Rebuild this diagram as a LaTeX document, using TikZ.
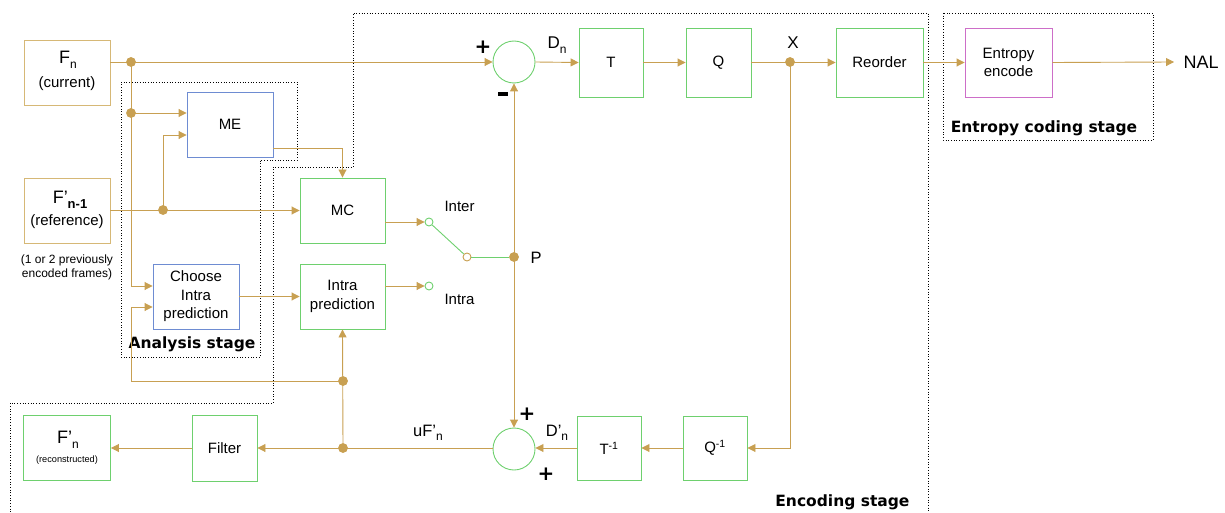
\documentclass[tikz,border=0pt]{standalone}
\usepackage{fontspec}
\setmainfont{Liberation Sans}
\newfontfamily\stagefont{DejaVu Sans}
\usetikzlibrary{arrows.meta,calc}
\definecolor{ln}{RGB}{200,160,82}
\definecolor{lbox}{RGB}{214,184,118}
\definecolor{gbox}{RGB}{110,208,110}
\definecolor{bbox}{RGB}{110,140,210}
\definecolor{mbox}{RGB}{205,110,200}
\newcommand{\sbs}[1]{\raisebox{-0.5ex}{\fontsize{12}{12}\selectfont #1}}
\begin{document}
\begin{tikzpicture}[x=1pt,y=-1pt,
  box/.style={draw, line width=0.9pt, minimum width=86pt, minimum height=65pt, inner sep=0pt, align=center, font=\fontsize{15}{18.5}\selectfont},
  tanbox/.style={box, draw=lbox},
  grbox/.style={box, draw=gbox},
  blbox/.style={box, draw=bbox},
  mgbox/.style={box, draw=mbox},
  sumc/.style={circle, draw=gbox, line width=0.9pt, minimum size=42pt, inner sep=0pt},
  port/.style={circle, draw=gbox, line width=0.9pt, fill=white, minimum size=8pt, inner sep=0pt},
  lnk/.style={draw=ln, line width=0.9pt},
  ar/.style={lnk, -{Triangle[length=8pt,width=8pt]}},
  dot/.style={circle, fill=ln, minimum size=9.5pt, inner sep=0pt},
  stage/.style={draw=black, line width=0.7pt, dotted},
  stlabel/.style={font=\stagefont\bfseries\fontsize{15.5}{15.5}\selectfont},
  lbl/.style={font=\fontsize{16.5}{16.5}\selectfont},
  txt/.style={font=\fontsize{15}{15}\selectfont},
  sign/.style={font=\stagefont\bfseries\fontsize{20}{20}\selectfont},
]
\useasboundingbox (0,0) rectangle (1225,513);
% stage frames
\draw[stage] (121,82) -- (297,82) -- (297,160) -- (260,160) -- (260,357) -- (121,357) -- cycle;
\draw[stage] (10,520) -- (10,403) -- (273,403) -- (273,167) -- (353,167) -- (353,13) -- (928,13) -- (928,520);
\draw[stage] (943,13) rectangle (1153,140);
\node[stlabel] (la) at (192,344) {Analysis stage};
\node[stlabel, anchor=east] (le) at (913,502) {Encoding stage};
\node[stlabel] (lc) at (1044,128) {Entropy coding stage};

% boxes
\node[tanbox, minimum width=86pt] (Fn) at (67,72.5) {};
\node[font=\fontsize{18}{18}\selectfont] (tFn) at (68,60) {F\sbs{n}};
\node[txt] (tFc) at (67,84) {(current)};
\node[tanbox] (F1) at (67,210.5) {};
\node[font=\fontsize{18}{18}\selectfont] (tF1) at (70,200) {F'\raisebox{-0.5ex}{\fontsize{13}{13}\selectfont\bfseries n-1}};
\node[txt] (tF1r) at (67,222) {(reference)};
\node[align=center, font=\fontsize{12}{14}\selectfont] (prev) at (67,267) {(1 or 2 previously\\encoded frames)};
\node[blbox] (ME) at (230,124.5) {ME};
\node[grbox, minimum width=85pt] (MC) at (342.5,210.5) {MC};
\node[blbox] (CI) at (196,296.5) {Choose\\Intra\\prediction};
\node[grbox, minimum width=85pt] (IP) at (342.5,296.5) {Intra\\prediction};
\node[sumc] (S1) at (514,62) {};
\node[grbox, minimum width=64pt, minimum height=69pt] (T) at (611,62.5) {T};
\node[grbox, minimum width=65pt, minimum height=69pt] (Q) at (718.5,62.5) {Q};
\node[grbox, minimum width=87pt, minimum height=69pt] (RO) at (879.5,62.5) {Reorder};
\node[mgbox, minimum width=87pt, minimum height=69pt] (EE) at (1008.5,62.5) {Entropy\\encode};
\node[font=\fontsize{18}{18}\selectfont, anchor=west] (NAL) at (1180,62) {NAL};
\coordinate (NALin) at (1174,62);

\node[sumc] (S2) at (514,449) {};
\node[grbox, minimum width=64pt, minimum height=64pt] (Ti) at (609,448) {T\textsuperscript{-1}};
\node[grbox, minimum width=64pt, minimum height=64pt] (Qi) at (715,448) {Q\textsuperscript{-1}};
\node[grbox, minimum width=65pt, minimum height=66pt] (Fil) at (224.5,448) {Filter};
\node[grbox, minimum width=87pt, minimum height=65pt] (Fr) at (67,448) {};
\node[font=\fontsize{18}{18}\selectfont] (tFr) at (68,440) {F'\sbs{n}};
\node[font=\fontsize{9.2}{9.2}\selectfont] (tFrr) at (67,460) {(reconstructed)};

% switch
\node[port] (inter) at (429,222) {};
\node[port] (intra) at (429,286) {};
\node[port, draw=ln] (piv) at (467,257) {};
\node[dot] (P) at (514,257) {};
\node[lbl, anchor=west] (tP) at (527,258) {P};
\node[txt, anchor=west] (tInter) at (441,206) {Inter};
\node[txt, anchor=west] (tIntra) at (441,299) {Intra};
\draw[gbox, line width=0.9pt] (inter) -- (piv);
\draw[gbox, line width=0.9pt] (piv) -- (P);

% junctions
\node[dot] (J1) at (131,62) {};
\node[dot] (J2) at (131,113) {};
\node[dot] (J3) at (163,210) {};
\node[dot] (J4) at (790,62) {};
\node[dot] (J5) at (343,448) {};
\node[dot] (J6) at (343,381) {};
\coordinate (C7) at (131,381);

% connectors top
\draw[ar] (Fn.east |- S1.west) -- (S1.west);
\draw[lnk] (J1.center) -- (J2.center);
\draw[ar] (J2.center) |- ([yshift=10.5pt]CI.west);
\draw[ar] (J2.center) -- (J2 -| ME.west);
\draw[ar] (F1.east) -- (MC.west);
\draw[ar] (J3.center) |- ([yshift=-10.5pt]ME.west);
\draw[ar] ([yshift=-23.5pt]ME.east) -| (MC.north);
\draw[ar] ([yshift=-11.5pt]MC.east) -- (inter);
\draw[ar] ([yshift=10.5pt]IP.east) -- (intra);
\draw[ar] (CI.east) -- (IP.west);
\draw[ar] (P.center) -- (S1.south);
\draw[ar] (P.center) -- (S2.north);
\draw[ar] (S1.east) -- (T.west);
\draw[ar] (T.east) -- (Q.west);
\draw[ar] (Q.east) -- (RO.west);
\draw[ar] (RO.east) -- (EE.west);
\draw[ar] (EE.east) -- (NALin);
\draw[ar] (J4.center) |- (Qi.east);
% bottom
\draw[ar] (Qi.west) -- (Ti.east);
\draw[ar] (Ti.west) -- (Ti.west -| S2.east);
\draw[ar] (S2.west |- Fil.east) -- (Fil.east);
\draw[ar] (Fil.west) -- (Fr.east);
\draw[ar] (J5.center) -- (IP.south);
\draw[ar] (J6.center) -- (C7) |- ([yshift=-10.5pt]CI.west);
\node[dot] at (J1) {};
\node[dot] at (J2) {};
\node[dot] at (J3) {};
\node[dot] at (J4) {};
\node[dot] at (J5) {};
\node[dot] at (J6) {};
\node[dot] at (P) {};

% labels
\node[sign] (p1) at (483,47) {+};
\node[inner sep=0pt] (m1) at (503,94) {\rule{10pt}{4pt}};
\node[font=\fontsize{17}{17}\selectfont] (tDn) at (557,45) {D\sbs{n}};
\node[font=\fontsize{17}{17}\selectfont] (tX) at (793,43) {X};
\node[sign] (p2) at (527,414) {+};
\node[sign] (p3) at (546,474) {+};
\node[lbl] (tDpn) at (557,433) {D'\sbs{n}};
\node[lbl] (tuF) at (428,433) {uF'\sbs{n}};
\end{tikzpicture}
\end{document}
